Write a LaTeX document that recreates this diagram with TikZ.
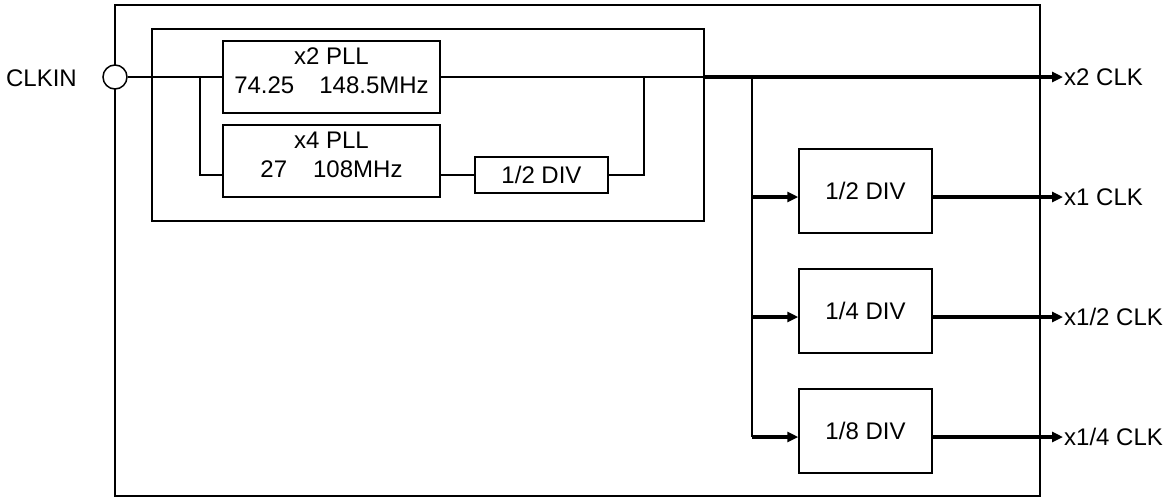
\documentclass[tikz,border=0pt]{standalone}
\usepackage{fontspec}
\setmainfont{Liberation Sans}
\usetikzlibrary{positioning}
\usetikzlibrary{arrows.meta}

\begin{document}
\begin{tikzpicture}[x=1pt, y=-1pt,
    every node/.style={font=\fontsize{24}{30}\selectfont},
    blk/.style={draw, line width=1.5pt, fill=white, inner sep=0pt, align=center},
    thin/.style={line width=1.5pt},
    fat/.style={line width=3.2pt},
    tip/.style={-{Triangle[length=11pt, width=10pt]}},
    lbl/.style={inner sep=1pt, text height=17pt, text depth=0pt}]

    \useasboundingbox (0,0) rectangle (1172,499);

    % chip outline and the PLL group
    \path[draw, thin] (115,5) rectangle (1040,496);
    \path[draw, thin] (152,29) rectangle (704,221);

    % input
    \node[lbl, anchor=east] (clkin) at (78,78) {CLKIN};
    \node[circle, draw, thin, fill=white, minimum size=24pt, inner sep=0pt] (cin) at (115,77) {};

    % PLL blocks
    \node[blk, minimum width=217pt, minimum height=72pt] (pllA) at (331.5,77) {x2 PLL\\[-1pt]74.25\hspace{25pt}148.5MHz\rule[-13pt]{0pt}{0pt}};
    \node[blk, minimum width=217pt, minimum height=72pt] (pllB) at (331.5,161) {x4 PLL\\[-1pt]27\hspace{26pt}108MHz\rule[-13pt]{0pt}{0pt}};
    \node[blk, minimum width=133pt, minimum height=36pt] (divA) at (541.5,175) {1/2 DIV};

    \coordinate (split) at (200,77);
    \coordinate (merge) at (644,77);
    \coordinate (grpR) at (704,77);

    \path[draw, thin] (cin.east) -- (pllA.west);
    \path[draw, thin] (split) |- (pllB.west |- divA.west);
    \path[draw, thin] (pllB.east |- divA.west) -- (divA.west);
    \path[draw, thin] (divA.east) -| (merge);
    \path[draw, thin] (pllA.east) -- (grpR);

    % x2 output
    \node[lbl, anchor=west] (o0) at (1063,77) {x2 CLK};
    \path[draw, fat, tip] (grpR) -- (o0.west);

    % divider bank
    \node[blk, minimum width=133pt, minimum height=84pt] (d1) at (865.5,191) {1/2 DIV};
    \node[blk, minimum width=133pt, minimum height=84pt] (d2) at (865.5,311) {1/4 DIV};
    \node[blk, minimum width=133pt, minimum height=84pt] (d3) at (865.5,431) {1/8 DIV};

    \coordinate (busT) at (752,77);
    \coordinate (br1) at (752,197);
    \coordinate (br2) at (752,317);
    \coordinate (br3) at (752,437);
    \path[draw, thin] (busT) -- (br3);

    \node[lbl, anchor=west] (o1) at (1063,197) {x1 CLK};
    \node[lbl, anchor=west] (o2) at (1063,317) {x1/2 CLK};
    \node[lbl, anchor=west] (o3) at (1063,437) {x1/4 CLK};

    \path[draw, fat, tip] (br1) -- (br1 -| d1.west);
    \path[draw, fat, tip] (br2) -- (br2 -| d2.west);
    \path[draw, fat, tip] (br3) -- (br3 -| d3.west);
    \path[draw, fat, tip] (br1 -| d1.east) -- (o1.west);
    \path[draw, fat, tip] (br2 -| d2.east) -- (o2.west);
    \path[draw, fat, tip] (br3 -| d3.east) -- (o3.west);

\end{tikzpicture}
\end{document}
